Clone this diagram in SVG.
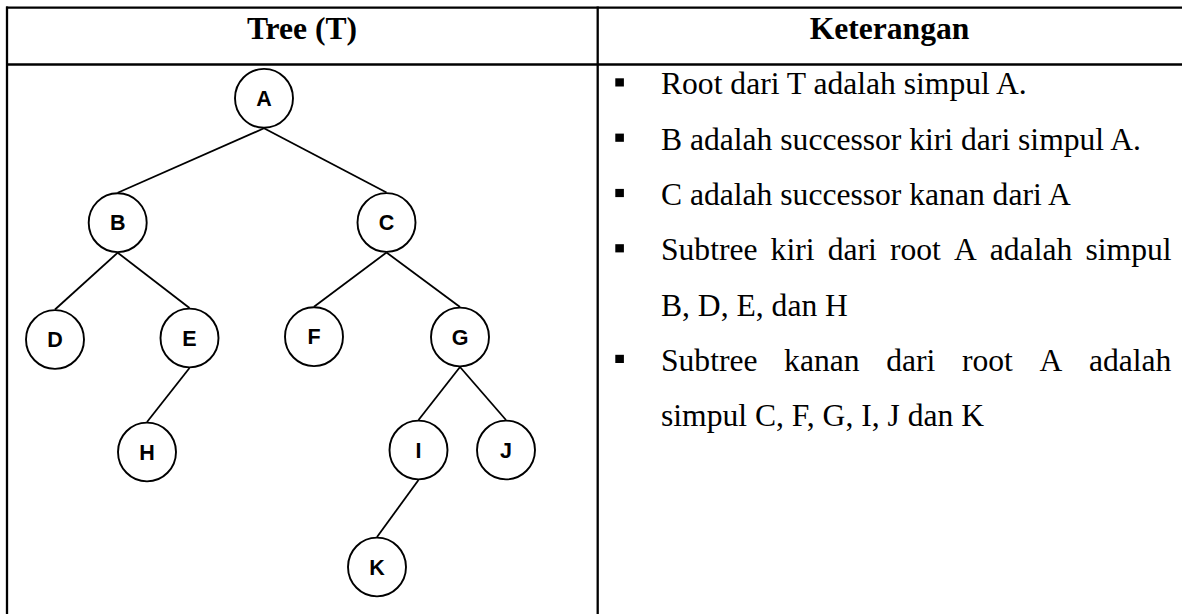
<svg xmlns="http://www.w3.org/2000/svg" width="1182" height="614" viewBox="0 0 1182 614">
<style>
.grid{stroke:#000;stroke-width:2.3;fill:none}
.node ellipse{fill:#fff;stroke:#000;stroke-width:1.9}
.node text{font-family:"Liberation Sans",Arial,sans-serif;font-weight:bold;font-size:21.5px;text-anchor:middle;fill:#000}
.edges line{stroke:#000;stroke-width:1.8}
.head{font-family:"Liberation Serif","Times New Roman",serif;font-weight:bold;font-size:31.6px;text-anchor:middle;fill:#000}
.body{font-family:"Liberation Serif","Times New Roman",serif;font-size:31.6px;fill:#000}
.bullet{fill:#000}
</style>
<rect width="1182" height="614" fill="#fff"/>
<g id="table">
<line class="grid" x1="6" y1="7.7" x2="1182" y2="7.7"/>
<line class="grid" x1="6" y1="64.5" x2="1182" y2="64.5"/>
<line class="grid" x1="7" y1="6.6" x2="7" y2="614"/>
<line class="grid" x1="597.7" y1="6.6" x2="597.7" y2="614"/>
<text class="head" x="302" y="39.3">Tree (T)</text>
<text class="head" x="889.5" y="39.3">Keterangan</text>
</g>
<g id="connectors" class="edges">
<line x1="264" y1="128.3" x2="117.7" y2="192.7"/>
<line x1="264" y1="128.3" x2="386.5" y2="192.5"/>
<line x1="117.7" y1="252.7" x2="55" y2="309.5"/>
<line x1="117.7" y1="252.7" x2="189.5" y2="308"/>
<line x1="386.5" y1="252.5" x2="314" y2="306.7"/>
<line x1="386.5" y1="252.5" x2="460" y2="307"/>
<line x1="189.5" y1="368" x2="147" y2="422"/>
<line x1="460" y1="367" x2="418.5" y2="420"/>
<line x1="460" y1="367" x2="506" y2="420"/>
<line x1="418.5" y1="480" x2="377" y2="537"/>
</g>
<g id="node-A" class="node"><ellipse cx="264" cy="98.3" rx="29" ry="29.4"/><text x="264" y="106">A</text></g>
<g id="node-B" class="node"><ellipse cx="117.7" cy="222.7" rx="29" ry="29.4"/><text x="117.7" y="230.4">B</text></g>
<g id="node-C" class="node"><ellipse cx="386.5" cy="222.5" rx="29" ry="29.4"/><text x="386.5" y="230.2">C</text></g>
<g id="node-D" class="node"><ellipse cx="55" cy="339.5" rx="29" ry="29.4"/><text x="55" y="347.2">D</text></g>
<g id="node-E" class="node"><ellipse cx="189.5" cy="338" rx="29" ry="29.4"/><text x="189.5" y="345.7">E</text></g>
<g id="node-F" class="node"><ellipse cx="314" cy="336.7" rx="29" ry="29.4"/><text x="314" y="344.4">F</text></g>
<g id="node-G" class="node"><ellipse cx="460" cy="337" rx="29" ry="29.4"/><text x="460" y="344.7">G</text></g>
<g id="node-H" class="node"><ellipse cx="147" cy="452" rx="29" ry="29.4"/><text x="147" y="459.7">H</text></g>
<g id="node-I" class="node"><ellipse cx="418.5" cy="450" rx="29" ry="29.4"/><text x="418.5" y="457.7">I</text></g>
<g id="node-J" class="node"><ellipse cx="506" cy="450" rx="29" ry="29.4"/><text x="506" y="457.7">J</text></g>
<g id="node-K" class="node"><ellipse cx="377" cy="567" rx="29" ry="29.4"/><text x="377" y="574.7">K</text></g>
<g id="keterangan">
<rect class="bullet" x="615.3" y="78.3" width="8.6" height="8.2"/>
<rect class="bullet" x="615.3" y="133.6" width="8.6" height="8.2"/>
<rect class="bullet" x="615.3" y="188.9" width="8.6" height="8.2"/>
<rect class="bullet" x="615.3" y="244.2" width="8.6" height="8.2"/>
<rect class="bullet" x="615.3" y="354.8" width="8.6" height="8.2"/>
<text class="body" x="661" y="94.3">Root dari T adalah simpul A.</text>
<text class="body" x="661" y="149.6">B adalah successor kiri dari simpul A.</text>
<text class="body" x="661" y="204.9">C adalah successor kanan dari A</text>
<text class="body" y="260.2"><tspan x="661">Subtree</tspan><tspan x="770.6">kiri</tspan><tspan x="827.7">dari</tspan><tspan x="889.9">root</tspan><tspan x="953.9">A</tspan><tspan x="989.8">adalah</tspan><tspan x="1085.5">simpul</tspan></text>
<text class="body" x="661" y="315.5">B, D, E, dan H</text>
<text class="body" y="370.8"><tspan x="661">Subtree</tspan><tspan x="784.1">kanan</tspan><tspan x="886.2">dari</tspan><tspan x="961.9">root</tspan><tspan x="1039.5">A</tspan><tspan x="1088.9">adalah</tspan></text>
<text class="body" x="661" y="426.1">simpul C, F, G, I, J dan K</text>
</g>
</svg>
